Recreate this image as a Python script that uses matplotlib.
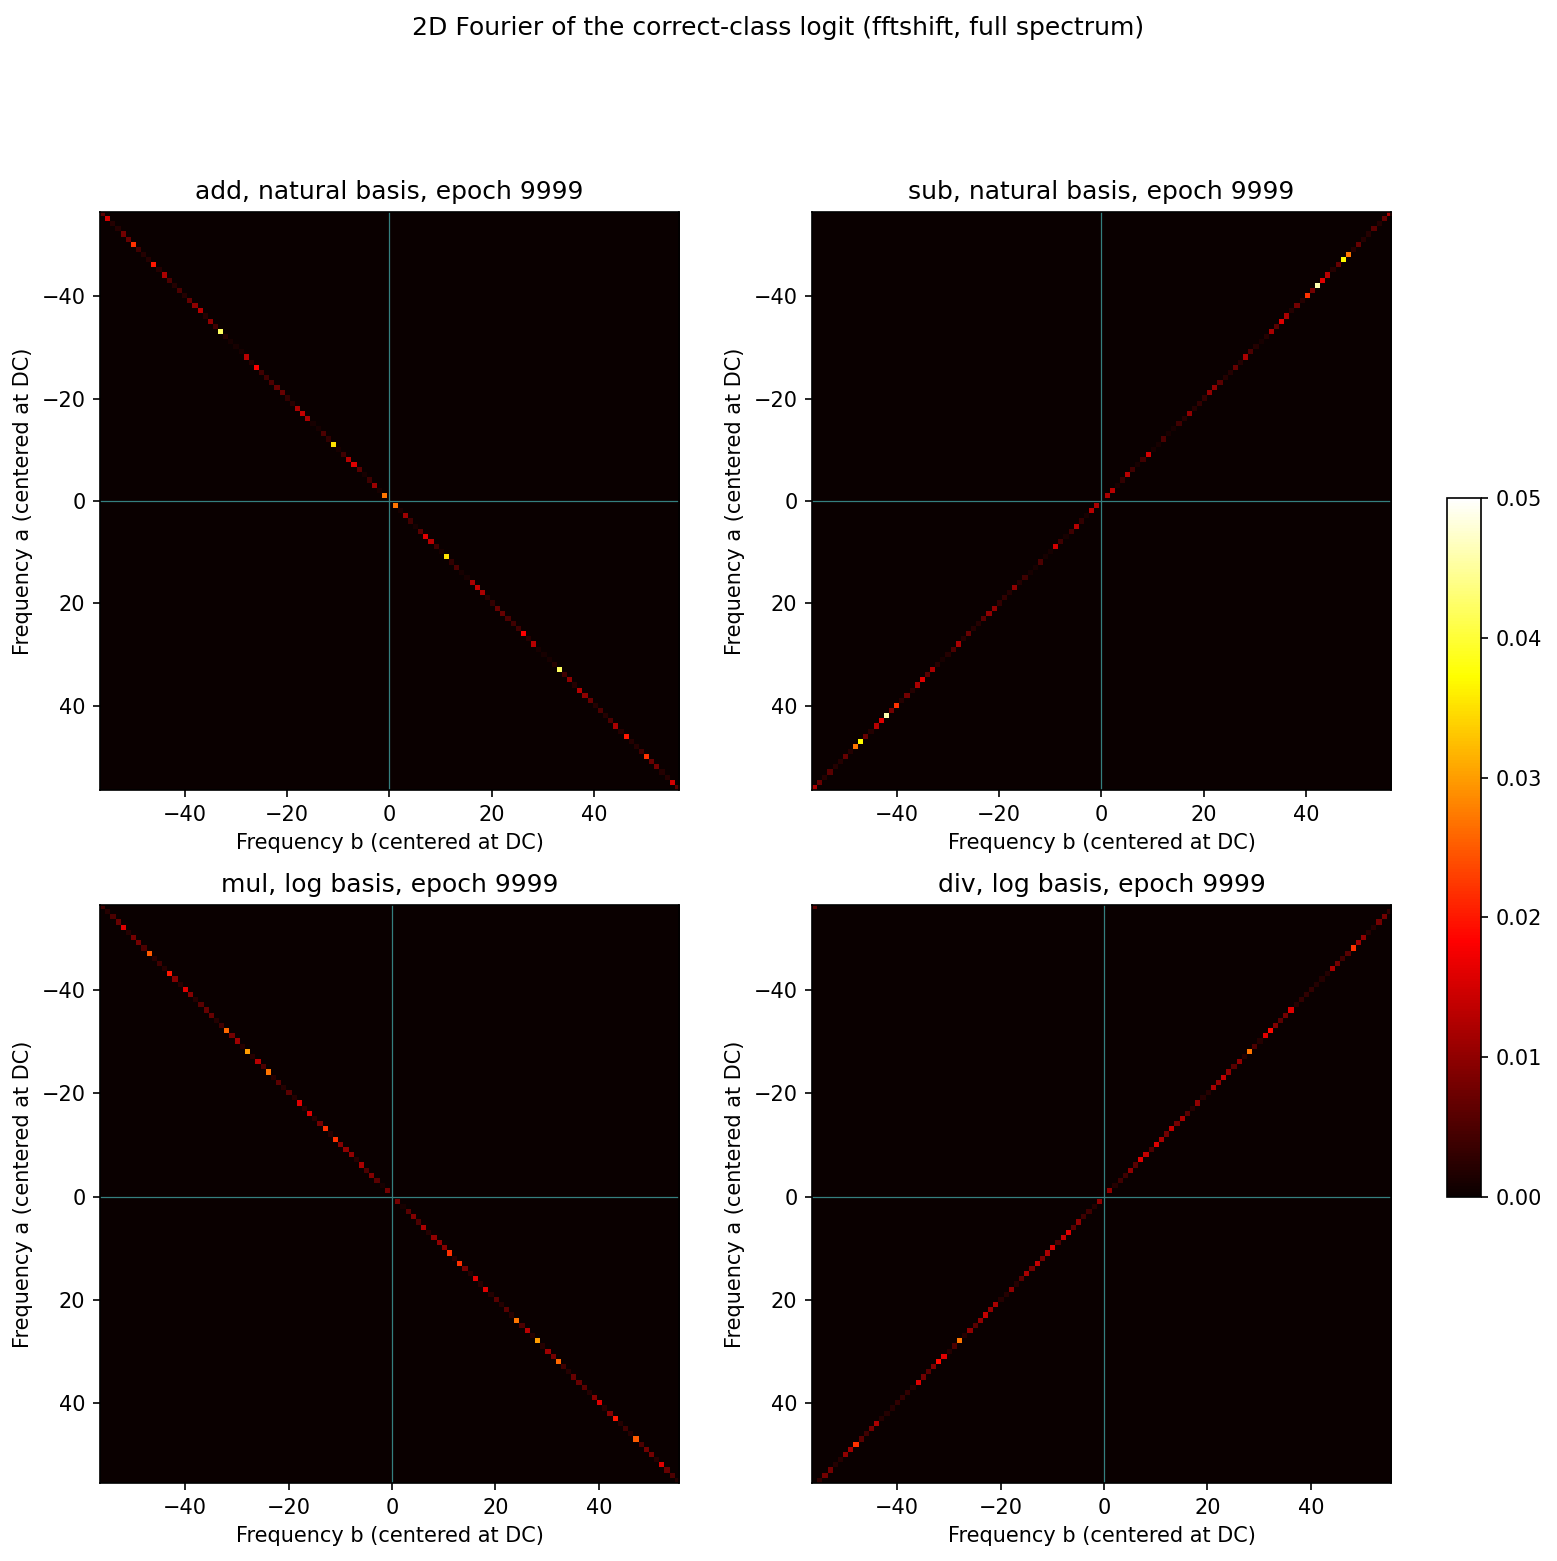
import numpy as np
import matplotlib
matplotlib.use("Agg")
import matplotlib.pyplot as plt

# |F(k)| along the diagonal, k = 1..K (spectrum of a real signal: |F(-k)| = |F(k)|)
add_vals = [0.027, 0.001, 0.011, 0.004, 0.001, 0.006, 0.016, 0.013, 0.004, 0.001,
            0.035, 0.003, 0.005, 0.001, 0.001, 0.012, 0.014, 0.012, 0.002, 0.003,
            0.007, 0.007, 0.005, 0.004, 0.004, 0.018, 0.002, 0.013, 0.001, 0.001,
            0.001, 0.002, 0.042, 0.004, 0.010, 0.002, 0.013, 0.010, 0.007, 0.002,
            0.005, 0.002, 0.005, 0.012, 0.002, 0.020, 0.002, 0.002, 0.004, 0.022,
            0.007, 0.008, 0.002, 0.002, 0.015, 0.006]
sub_vals = [0.012, 0.013, 0.001, 0.003, 0.013, 0.004, 0.001, 0.004, 0.015, 0.001,
            0.001, 0.005, 0.001, 0.001, 0.004, 0.002, 0.010, 0.002, 0.003, 0.003,
            0.010, 0.010, 0.006, 0.002, 0.002, 0.007, 0.002, 0.012, 0.005, 0.002,
            0.001, 0.002, 0.012, 0.006, 0.016, 0.012, 0.002, 0.008, 0.002, 0.022,
            0.008, 0.046, 0.016, 0.013, 0.002, 0.007, 0.037, 0.027, 0.002, 0.007,
            0.002, 0.002, 0.006, 0.002, 0.007, 0.012]
# log basis: 112 points, k = 1..55 plus the Nyquist bin -56
mul_vals = [0.008, 0.001, 0.006, 0.009, 0.005, 0.012, 0.002, 0.010, 0.010, 0.009,
            0.022, 0.002, 0.022, 0.008, 0.002, 0.016, 0.002, 0.016, 0.002, 0.006,
            0.002, 0.006, 0.002, 0.027, 0.005, 0.013, 0.002, 0.030, 0.002, 0.011,
            0.008, 0.026, 0.004, 0.002, 0.007, 0.007, 0.006, 0.002, 0.009, 0.016,
            0.002, 0.009, 0.020, 0.002, 0.004, 0.002, 0.025, 0.005, 0.008, 0.008,
            0.002, 0.016, 0.007, 0.005, 0.002]
mul_nyq = 0.004
div_vals = [0.010, 0.002, 0.004, 0.004, 0.010, 0.006, 0.016, 0.014, 0.005, 0.016,
            0.012, 0.008, 0.014, 0.008, 0.012, 0.006, 0.002, 0.010, 0.002, 0.002,
            0.012, 0.010, 0.014, 0.010, 0.006, 0.010, 0.002, 0.027, 0.005, 0.002,
            0.016, 0.019, 0.009, 0.006, 0.008, 0.016, 0.002, 0.003, 0.003, 0.003,
            0.002, 0.002, 0.002, 0.012, 0.008, 0.004, 0.006, 0.022, 0.011, 0.010,
            0.002, 0.002, 0.008, 0.008, 0.003]
div_nyq = 0.006

titles = ["add, natural basis, epoch 9999", "sub, natural basis, epoch 9999",
          "mul, log basis, epoch 9999", "div, log basis, epoch 9999"]


def spectrum(vals, n, sign, nyq=0.0):
    freqs = np.fft.fftshift(np.fft.fftfreq(n, 1.0 / n)).astype(int)
    M = np.zeros((n, n))
    for i, ka in enumerate(freqs):
        kb = (sign * ka + n // 2) % n - n // 2
        j = int(np.where(freqs == kb)[0][0])
        k = abs(int(ka))
        if k == 0:
            v = 0.0
        elif k > len(vals):
            v = nyq
        else:
            v = vals[k - 1]
        M[i, j] = v
    lo = freqs[0] - 0.5
    hi = freqs[-1] + 0.5
    return M, [lo, hi, hi, lo]


panels = [spectrum(add_vals, 113, 1), spectrum(sub_vals, 113, -1),
          spectrum(mul_vals, 112, 1, mul_nyq), spectrum(div_vals, 112, -1, div_nyq)]

fig = plt.figure(figsize=(1557 / 150, 1561 / 150), dpi=150)
fig.suptitle("2D Fourier of the correct-class logit (fftshift, full spectrum)",
             y=0.99, fontsize=12)

boxes = [[0.0642, 0.4939, 0.3719, 0.3703], [0.5215, 0.4939, 0.3719, 0.3703],
         [0.0642, 0.0500, 0.3719, 0.3703], [0.5215, 0.0500, 0.3719, 0.3703]]

for (M, ext), box, t in zip(panels, boxes, titles):
    ax = fig.add_axes(box)
    im = ax.imshow(M, cmap="hot", vmin=0, vmax=0.05, extent=ext,
                   interpolation="nearest", aspect="auto")
    ax.axhline(0, color="#357f7f", lw=0.6)
    ax.axvline(0, color="#357f7f", lw=0.6)
    ax.set_title(t, fontsize=12)
    ax.set_xlabel("Frequency b (centered at DC)")
    ax.set_ylabel("Frequency a (centered at DC)")

cax = fig.add_axes([0.9293, 0.2332, 0.0218, 0.4478])
fig.colorbar(im, cax=cax)

fig.savefig("out.png", dpi=150)
